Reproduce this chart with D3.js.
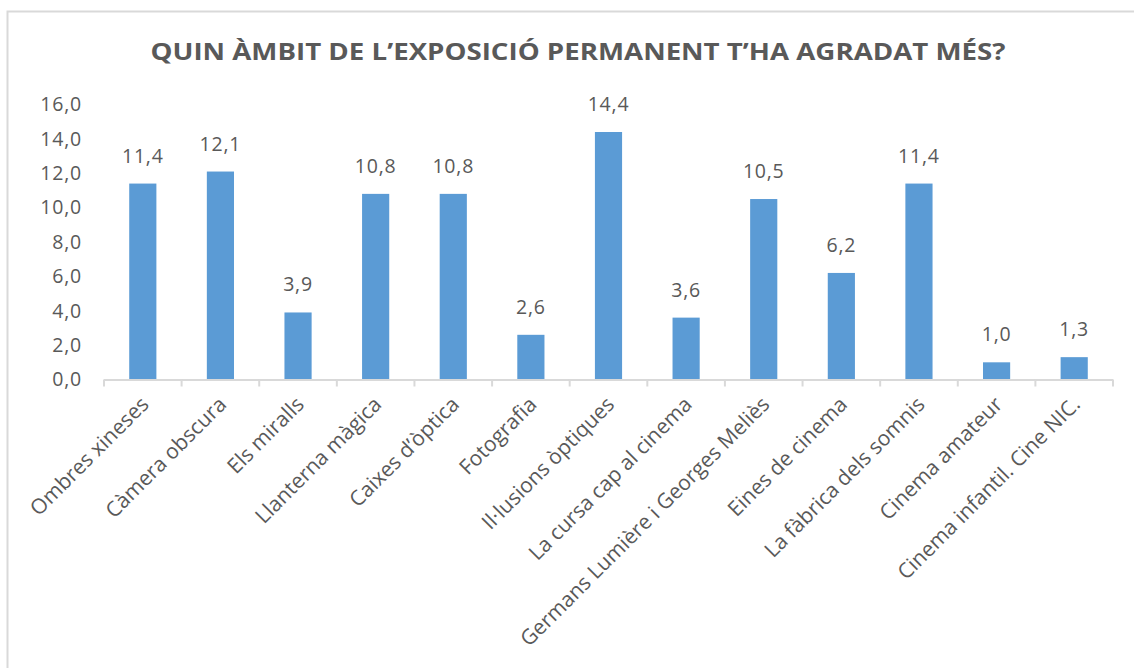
<!DOCTYPE html>
<html>
<head>
<meta charset="utf-8">
<script src="https://cdn.jsdelivr.net/npm/d3@7"></script>
<style>
  html, body { margin: 0; padding: 0; background: #fff; }
  svg text { font-family: "Open Sans", "DejaVu Sans", sans-serif; fill: #595959; }
</style>
</head>
<body>
<script>
// Survey results: favourite area of the permanent exhibition (%)
const title = "QUIN ÀMBIT DE L’EXPOSICIÓ PERMANENT T’HA AGRADAT MÉS?";
const categories = [
  "Ombres xineses", "Càmera obscura", "Els miralls", "Llanterna màgica",
  "Caixes d’òptica", "Fotografia", "Il·lusions òptiques", "La cursa cap al cinema",
  "Germans Lumière i Georges Meliès", "Eines de cinema", "La fàbrica dels somnis",
  "Cinema amateur", "Cinema infantil. Cine NIC."
];
const values = [11.4, 12.1, 3.9, 10.8, 10.8, 2.6, 14.4, 3.6, 10.5, 6.2, 11.4, 1.0, 1.3];
const yTicks = [0, 2, 4, 6, 8, 10, 12, 14, 16];

const W = 1134, H = 668;
const plot = { left: 104, right: 1113, top: 104.5, bottom: 379.5 };
const barColor = "#5B9BD5";
const axisColor = "#D9D9D9";

const fmt = v => d3.format(".1f")(v).replace(".", ",");

const svg = d3.select("body").append("svg")
  .attr("width", W).attr("height", H);

// chart frame
svg.append("rect")
  .attr("x", 7.5).attr("y", 11.5)
  .attr("width", W + 20).attr("height", H + 20)
  .attr("fill", "#fff")
  .attr("stroke", axisColor).attr("stroke-width", 2);

// title
svg.append("text")
  .attr("x", 578).attr("y", 60)
  .attr("text-anchor", "middle")
  .attr("font-size", 24).attr("font-weight", "bold")
  .attr("textLength", 855).attr("lengthAdjust", "spacingAndGlyphs")
  .text(title);

const x = d3.scaleBand()
  .domain(categories)
  .range([plot.left, plot.right])
  .paddingInner(0.65).paddingOuter(0.325);

const y = d3.scaleLinear().domain([0, 16]).range([plot.bottom, plot.top]);

// y axis labels (no axis line)
const yAxis = svg.append("g")
  .attr("transform", `translate(${plot.left},0)`)
  .call(d3.axisLeft(y).tickValues(yTicks).tickFormat(fmt).tickSize(0).tickPadding(22));
yAxis.select(".domain").remove();
yAxis.selectAll("text").attr("font-size", 19.5).attr("fill", "#595959")
  .attr("letter-spacing", 0.8)
  .style("font-family", '"Open Sans", sans-serif');

// bars
svg.append("g").selectAll("rect")
  .data(values)
  .join("rect")
  .attr("x", (d, i) => x(categories[i]))
  .attr("width", x.bandwidth())
  .attr("y", d => y(d))
  .attr("height", d => y(0) - y(d))
  .attr("fill", barColor);

// value labels
svg.append("g").selectAll("text")
  .data(values)
  .join("text")
  .attr("x", (d, i) => x(categories[i]) + x.bandwidth() / 2)
  .attr("y", d => y(d) - 21)
  .attr("text-anchor", "middle")
  .attr("font-size", 19.5)
  .attr("letter-spacing", 0.8)
  .text(fmt);

// x axis line with boundary ticks
const step = x.step();
const boundaries = d3.range(categories.length + 1).map(i => plot.left + i * step);
const xg = svg.append("g");
xg.append("line")
  .attr("x1", plot.left).attr("x2", plot.right)
  .attr("y1", y(0) + 0.5).attr("y2", y(0) + 0.5)
  .attr("stroke", axisColor).attr("stroke-width", 2);
xg.selectAll("line.tick")
  .data(boundaries)
  .join("line")
  .attr("class", "tick")
  .attr("x1", d => d).attr("x2", d => d)
  .attr("y1", y(0)).attr("y2", y(0) + 7)
  .attr("stroke", axisColor).attr("stroke-width", 2);

// rotated category labels
xg.selectAll("text")
  .data(categories)
  .join("text")
  .attr("transform", c => `translate(${x(c) + x.bandwidth() / 2 + 2},${y(0) + 21}) rotate(-45)`)
  .attr("text-anchor", "end")
  .attr("dy", "0.35em")
  .attr("font-size", 21)
  .text(c => c);
</script>
</body>
</html>
